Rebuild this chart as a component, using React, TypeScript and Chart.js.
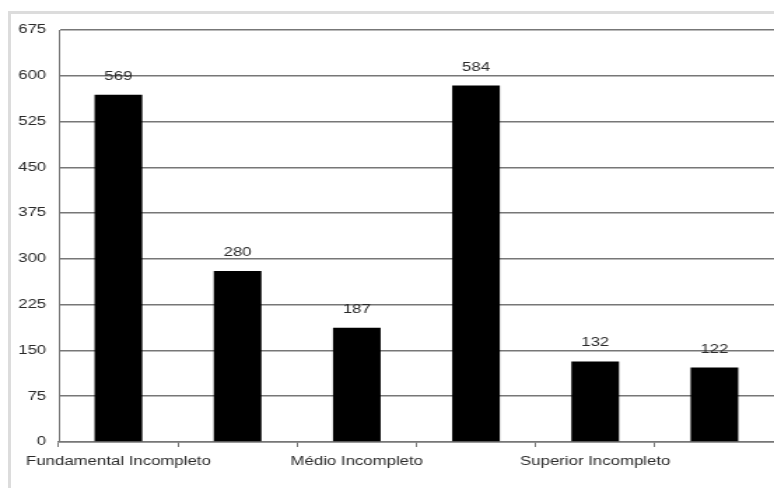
import React, { useEffect, useRef } from "react";
import { Chart, registerables } from "chart.js";

Chart.register(...registerables);

const categories = [
  "Fundamental Incompleto",
  "Fundamental Completo",
  "Médio Incompleto",
  "Médio Completo",
  "Superior Incompleto",
  "Superior Completo",
];
const values = [569, 280, 187, 584, 132, 122];
const yMin = 0;
const yMax = 675;
const yStep = 75;

const STRETCH = 1.4;
const W = 774;
const H = 488;
const FONT = "'Liberation Sans', Arial, sans-serif";

const valueLabels = {
  id: "valueLabels",
  afterDatasetsDraw(chart: any) {
    const ctx = chart.ctx;
    const meta = chart.getDatasetMeta(0);
    ctx.save();
    ctx.font = `12px ${FONT}`;
    ctx.fillStyle = "#2a2a2a";
    ctx.textAlign = "center";
    ctx.textBaseline = "alphabetic";
    meta.data.forEach((bar: any, i: number) => {
      ctx.fillText(String(values[i]), bar.x, bar.y - 15);
    });
    ctx.restore();
  },
};

export default function App() {
  const ref = useRef<HTMLCanvasElement>(null);
  useEffect(() => {
    if (!ref.current) return;
    const chart = new Chart(ref.current, {
      type: "bar",
      data: {
        labels: categories,
        datasets: [
          {
            data: values,
            backgroundColor: "#000000",
            borderWidth: 0,
            barPercentage: 0.4,
            categoryPercentage: 1,
          },
        ],
      },
      options: {
        responsive: false,
        animation: false,
        devicePixelRatio: 1,
        layout: { padding: { top: 30, left: 0, right: 0, bottom: 0 } },
        plugins: {
          legend: { display: false },
          tooltip: { enabled: false },
          title: { display: false },
        },
        scales: {
          x: {
            offset: true,
            grid: {
              display: true,
              offset: true,
              drawOnChartArea: false,
              drawTicks: true,
              tickLength: 5,
              color: "#777777",
              lineWidth: 1,
            },
            border: { display: true, color: "#777777", width: 1.5 },
            ticks: {
              autoSkip: false,
              maxRotation: 0,
              minRotation: 0,
              padding: 7,
              color: "#2a2a2a",
              font: { family: FONT, size: 12 },
              callback: (_v: any, i: number) => (i % 2 === 0 ? categories[i] : ""),
            },
            afterFit: (scale: any) => {
              scale.height = 46;
            },
          },
          y: {
            min: yMin,
            max: yMax,
            grid: {
              color: "#777777",
              lineWidth: 1.5,
              drawTicks: false,
            },
            border: { display: true, color: "#777777", width: 1 },
            ticks: {
              stepSize: yStep,
              padding: 9,
              color: "#2a2a2a",
              font: { family: FONT, size: 12 },
            },
            afterFit: (scale: any) => {
              scale.width = 42;
            },
          },
        },
      },
      plugins: [valueLabels],
    });
    return () => chart.destroy();
  }, []);

  return (
    <div
      style={{
        position: "fixed",
        left: 0,
        top: 0,
        width: W,
        height: H,
        background: "#ffffff",
        overflow: "hidden",
      }}
    >
      <div
        style={{
          position: "absolute",
          left: 8,
          top: 11,
          width: W + 20,
          height: H + 20,
          border: "3px solid #dcdcdc",
          boxSizing: "border-box",
        }}
      />
      <canvas
        ref={ref}
        width={Math.round(W / STRETCH)}
        height={H}
        style={{
          position: "absolute",
          left: 0,
          top: 0,
          width: `${W}px`,
          height: `${H}px`,
          display: "block",
        }}
      />
    </div>
  );
}
